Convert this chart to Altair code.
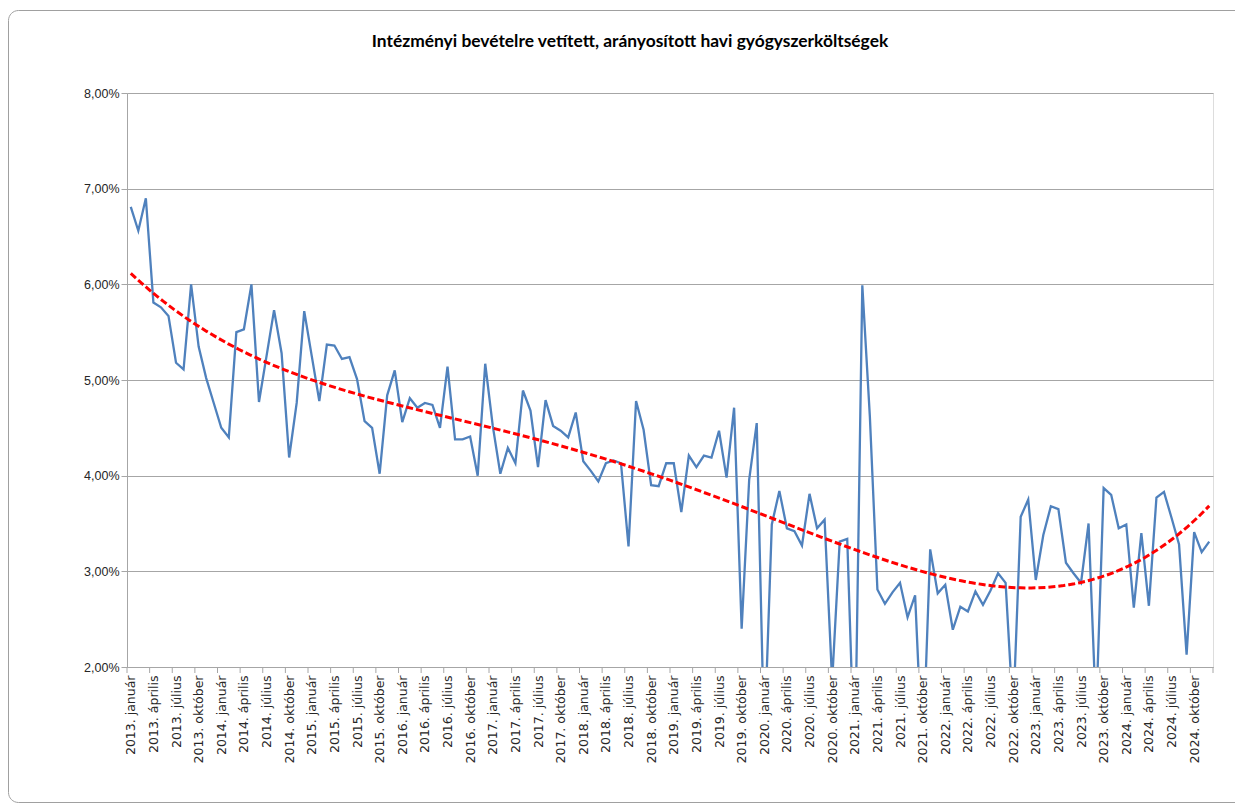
import altair as alt
import pandas as pd

# ---- data (percent values) ----
years = list(range(2013, 2025))
month_names = ["január", "február", "március", "április", "május", "június",
               "július", "augusztus", "szeptember", "október", "november", "december"]

v2013 = [6.81, 6.56, 6.90, 5.81, 5.76, 5.67, 5.18, 5.11, 6.00, 5.35, 5.02, 4.76]
v2014 = [4.50, 4.40, 5.50, 5.53, 6.00, 4.77, 5.25, 5.73, 5.28, 4.19, 4.76, 5.72]
v2015 = [5.25, 4.78, 5.37, 5.36, 5.22, 5.24, 5.01, 4.57, 4.50, 4.02, 4.84, 5.10]
v2016 = [4.56, 4.81, 4.71, 4.76, 4.74, 4.50, 5.14, 4.38, 4.38, 4.41, 4.00, 5.17]
v2017 = [4.52, 4.02, 4.29, 4.13, 4.89, 4.68, 4.09, 4.79, 4.52, 4.47, 4.40, 4.66]
v2018 = [4.15, 4.05, 3.94, 4.13, 4.16, 4.13, 3.26, 4.78, 4.48, 3.90, 3.89, 4.13]
v2019 = [4.13, 3.62, 4.21, 4.09, 4.21, 4.19, 4.47, 3.98, 4.71, 2.40, 3.96, 4.55]
v2020 = [1.20, 3.49, 3.84, 3.45, 3.42, 3.27, 3.81, 3.45, 3.54, 1.85, 3.31, 3.34]
v2021 = [0.90, 5.99, 4.62, 2.81, 2.66, 2.78, 2.88, 2.52, 2.75, 1.00, 3.23, 2.77]
v2022 = [2.86, 2.39, 2.63, 2.58, 2.79, 2.65, 2.80, 2.98, 2.88, 1.50, 3.57, 3.75]
v2023 = [2.91, 3.38, 3.68, 3.65, 3.09, 2.98, 2.88, 3.50, 1.50, 3.87, 3.80, 3.45]
v2024 = [3.49, 2.62, 3.40, 2.64, 3.77, 3.83, 3.56, 3.28, 2.13, 3.41, 3.20, 3.31]

series = [v2013, v2014, v2015, v2016, v2017, v2018, v2019, v2020, v2021, v2022, v2023, v2024]

title_text = "Intézményi bevételre vetített, arányosított havi gyógyszerköltségek"
y_ticks = [2, 3, 4, 5, 6, 7, 8]

rows = []
for yi, (yr, vals) in enumerate(zip(years, series)):
    for m, v in enumerate(vals):
        rows.append({"i": yi * 12 + m, "v": v, "label": f"{yr}. {month_names[m]}"})
df = pd.DataFrame(rows)
n = len(df)

label_idx = list(range(0, n, 3))
labels = [df.loc[k, "label"] for k in label_idx]
label_expr = "[" + ",".join("'" + s + "'" for s in labels) + "][round(datum.value/3)]"

tick_df = pd.DataFrame({"i": [k - 0.5 for k in label_idx] + [n - 0.5]})

W, H = 1086, 574
PL, PT, PR, PB = 119, 85, 22, 137

xscale = alt.Scale(domain=[-0.5, n - 0.5], nice=False, zero=False)
yscale = alt.Scale(domain=[2, 8], nice=False, zero=False)

x_axis = alt.Axis(values=label_idx, labelExpr=label_expr, labelAngle=-90,
                  labelAlign="right", labelBaseline="middle",
                  ticks=False, labelPadding=8, grid=False, title=None,
                  labelFont="DejaVu Sans", labelFontSize=12.5, labelColor="#262626",
                  domainColor="#a6a6a6", labelOverlap=False, labelBound=False,
                  labelFlush=False, labelSeparation=0)
y_axis = alt.Axis(values=y_ticks,
                  labelExpr="replace(format(datum.value, '.2f'), '.', ',') + '%'",
                  tickSize=6, tickColor="#a6a6a6", domainColor="#a6a6a6",
                  gridColor="#a6a6a6", gridWidth=1, labelPadding=2,
                  labelFont="Liberation Sans", labelFontSize=12.5, labelColor="#262626",
                  title=None)

X = alt.X("i:Q", scale=xscale, axis=x_axis)
Y = alt.Y("v:Q", scale=yscale, axis=y_axis)

base = alt.Chart(df)

line = base.mark_line(color="#4f81bd", strokeWidth=2.3, clip=True).encode(x=X, y=Y)

trend = base.transform_regression("i", "v", method="poly", order=4,
                                  extent=[0, n - 1]).mark_line(
    color="#ff0000", strokeWidth=3, strokeDash=[7, 3], clip=True).encode(x=X, y=Y)

ticks = alt.Chart(tick_df).mark_rule(color="#a6a6a6", strokeWidth=1, clip=False).encode(
    x=X, y=alt.value(H), y2=alt.value(H + 6))

one = pd.DataFrame({"a": [0]})
border = alt.Chart(one).mark_rect(fill=None, stroke="#a0a0a0", strokeWidth=1,
                                  cornerRadius=10, clip=False).encode(
    x=alt.value(-PL + 0.5), x2=alt.value(W + PR + 40),
    y=alt.value(-PT + 2.5), y2=alt.value(H + PB - 1.5))

title = alt.Chart(one).mark_text(text=title_text, font="Lato",
                                 fontSize=17.4, fontWeight="bold", color="#000000",
                                 align="center", baseline="alphabetic", clip=False).encode(
    x=alt.value(503), y=alt.value(-46))

chart = alt.layer(line, trend, ticks, border, title).properties(
    width=W, height=H,
    autosize=alt.AutoSizeParams(type="none"),
    padding={"left": PL, "top": PT, "right": PR, "bottom": PB},
).configure_view(stroke=None).configure(background="white")

chart.save("out.html", embed_options={"renderer": "svg", "actions": False})
